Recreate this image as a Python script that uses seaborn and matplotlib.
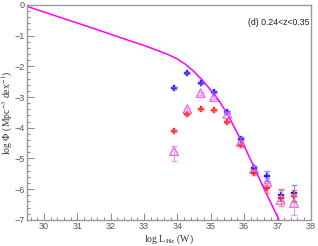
import matplotlib
matplotlib.use("Agg")
import matplotlib.pyplot as plt
from matplotlib.ticker import MultipleLocator
import pandas as pd
import seaborn as sns

# luminosity bins (log L_Halpha, W)
lum = [33.9, 34.3, 34.7, 35.1, 35.5, 35.9, 36.3, 36.7, 37.1, 37.5]

# log Phi for the three samples
phi_blue = [-2.70, -2.21, -2.54, -2.83, -3.49, -4.36, -5.31, -5.57, -6.19, -6.12]
phi_red = [-4.10, -3.55, -3.39, -3.42, -3.81, -4.56, -5.47, -5.96, -6.29, -6.22]
phi_tri = [-4.76, -3.39, -2.87, -3.00, -3.55, -4.46, -5.34, -5.77, -6.35, -6.45]

err_blue = [0.03, 0.03, 0.03, 0.03, 0.04, 0.05, 0.08, 0.15, 0.20, 0.25]
err_red = [0.03, 0.03, 0.03, 0.03, 0.04, 0.05, 0.08, 0.15, 0.25, 0.20]
err_tri_lo = [0.33, 0.05, 0.05, 0.05, 0.05, 0.06, 0.08, 0.12, 0.12, 0.40]
err_tri_hi = [0.17, 0.05, 0.05, 0.05, 0.05, 0.06, 0.08, 0.12, 0.12, 0.25]

# fitted LF curve
fit_lum = [29.5, 30.5, 31.5, 32.5, 33.0, 33.5, 33.75, 34.0, 34.25, 34.5, 34.75,
           35.0, 35.25, 35.5, 36.0, 36.5, 37.05]
fit_phi = [-0.05, -0.41, -0.77, -1.14, -1.32, -1.52, -1.63, -1.76, -1.94, -2.17, -2.45,
           -2.77, -3.12, -3.55, -4.58, -5.75, -7.00]

sns.set_theme(style="white")
plt.rcParams["font.family"] = ["Liberation Sans", "DejaVu Sans"]
plt.rcParams["mathtext.fontset"] = "stix"

fig = plt.figure(figsize=(3.18, 2.46), dpi=100)
ax = fig.add_axes([0.086, 0.106, 0.891, 0.874])

fit_df = pd.DataFrame({"lum": fit_lum, "phi": fit_phi})
sns.lineplot(data=fit_df, x="lum", y="phi", color="#ff00ff", lw=1.1, ax=ax, sort=False)

# error bars
ax.errorbar(lum, phi_tri, yerr=[err_tri_lo, err_tri_hi], fmt="none",
            ecolor="#f080f0", elinewidth=0.8, capsize=2.5, alpha=0.8)
ax.errorbar(lum, phi_blue, yerr=err_blue, fmt="none",
            ecolor="#6a6aff", elinewidth=0.8, capsize=2.5, alpha=0.7)
ax.errorbar(lum, phi_red, yerr=err_red, fmt="none",
            ecolor="#ff6a6a", elinewidth=0.8, capsize=2.5, alpha=0.7)

pts = pd.DataFrame({"lum": lum, "blue": phi_blue, "red": phi_red, "tri": phi_tri})
sns.scatterplot(data=pts, x="lum", y="tri", marker="^", s=38,
                facecolors="none", edgecolor="#f060f0", linewidth=0.9, ax=ax)
sns.scatterplot(data=pts, x="lum", y="blue", marker="P", s=16,
                color="#0000ff", edgecolor="#6060ff", linewidth=0.3, ax=ax)
sns.scatterplot(data=pts, x="lum", y="red", marker="P", s=16,
                color="#ff0000", edgecolor="#ff6060", linewidth=0.3, ax=ax)

ax.set_xlim(29.5, 38)
ax.set_ylim(-7, 0)
ax.xaxis.set_major_locator(MultipleLocator(1))
ax.xaxis.set_minor_locator(MultipleLocator(0.2))
ax.yaxis.set_major_locator(MultipleLocator(1))
ax.yaxis.set_minor_locator(MultipleLocator(0.2))
ax.tick_params(which="both", direction="in", colors="#888888", labelcolor="#555555",
               labelsize=6.5, width=0.7, bottom=True, left=True, top=False, right=False)
ax.tick_params(which="major", length=5, pad=2)
ax.tick_params(which="minor", length=2.5)
ax.tick_params(axis="x", which="major", pad=1.5)
for s in ax.spines.values():
    s.set_color("#999999")
    s.set_linewidth(1.0)

ax.set_xlabel(r"log L$_{\mathrm{H\alpha}}$ (W)", family="Liberation Serif",
              fontsize=7, color="#333333")
ax.set_ylabel(r"log $\Phi$ (Mpc$^{-3}$ dex$^{-1}$)", family="Liberation Serif",
              fontsize=7, color="#333333")
ax.xaxis.set_label_coords(0.5, -0.058)
ax.yaxis.set_label_coords(-0.045, 0.5)

ax.text(0.995, 0.92, "(d) 0.24<z<0.35", transform=ax.transAxes, ha="right",
        va="center", fontsize=6.3, color="#222222")

fig.savefig("out.png", dpi=100)
